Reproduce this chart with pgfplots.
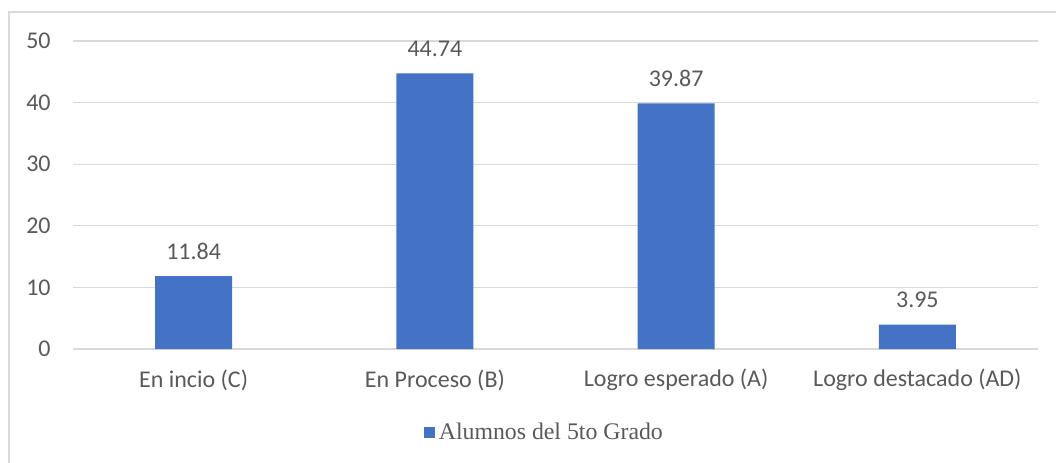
\documentclass[border=0pt]{standalone}
\usepackage{pgfplots}
\pgfplotsset{compat=1.18}
\usepackage{fontspec}
\setmainfont{Carlito}
\newfontfamily\timesf{Liberation Serif}
\definecolor{barblue}{HTML}{4472C4}
\definecolor{txt}{HTML}{595959}
\definecolor{gridc}{HTML}{D9D9D9}
\begin{document}
\begin{tikzpicture}
\useasboundingbox (0,0) rectangle (528pt,231pt);
\draw[gridc, line width=0.6pt] (4.5pt,-2pt) -- (4.5pt,225pt) -- (532pt,225pt);
\begin{axis}[
  at={(36.5pt,56.5pt)}, anchor=south west,
  scale only axis, width=482.5pt, height=154pt,
  xmin=-0.5, xmax=3.5, ymin=0, ymax=50,
  ytick={0,10,20,30,40,50},
  xtick={0,1,2,3},
  xticklabels={En incio (C), En Proceso (B), Logro esperado (A), Logro destacado (AD)},
  axis line style={draw=none},
  major tick length=0pt,
  ymajorgrids, grid style={gridc, line width=0.6pt},
  /pgf/number format/assume math mode=true,
  tick label style={font=\fontsize{12}{14}\selectfont, text=txt},
  yticklabel style={anchor=east, inner sep=0pt, xshift=-11pt},
  xticklabel style={anchor=center, inner sep=0pt, yshift=-15.5pt},
  ybar, bar width=38.5pt,
  point meta=explicit symbolic,
  nodes near coords,
  nodes near coords style={font=\fontsize{12}{14}\selectfont, text=txt, anchor=center, inner sep=0pt, yshift=12.5pt},
  legend style={at={(0.4895,-0.2727)}, anchor=center, draw=none, fill=none,
    font=\timesf\fontsize{11.9}{14}\selectfont, text=txt, inner sep=0pt},
  legend image code/.code={\fill[barblue] (0pt,-2.75pt) rectangle (5.5pt,2.75pt);},
]
\addplot[fill=barblue, draw=none] coordinates {(0,11.84) [11.84] (1,44.74) [44.74] (2,39.87) [39.87] (3,3.95) [3.95]};
\addlegendentry{Alumnos del 5to Grado}
\end{axis}
\end{tikzpicture}
\end{document}
